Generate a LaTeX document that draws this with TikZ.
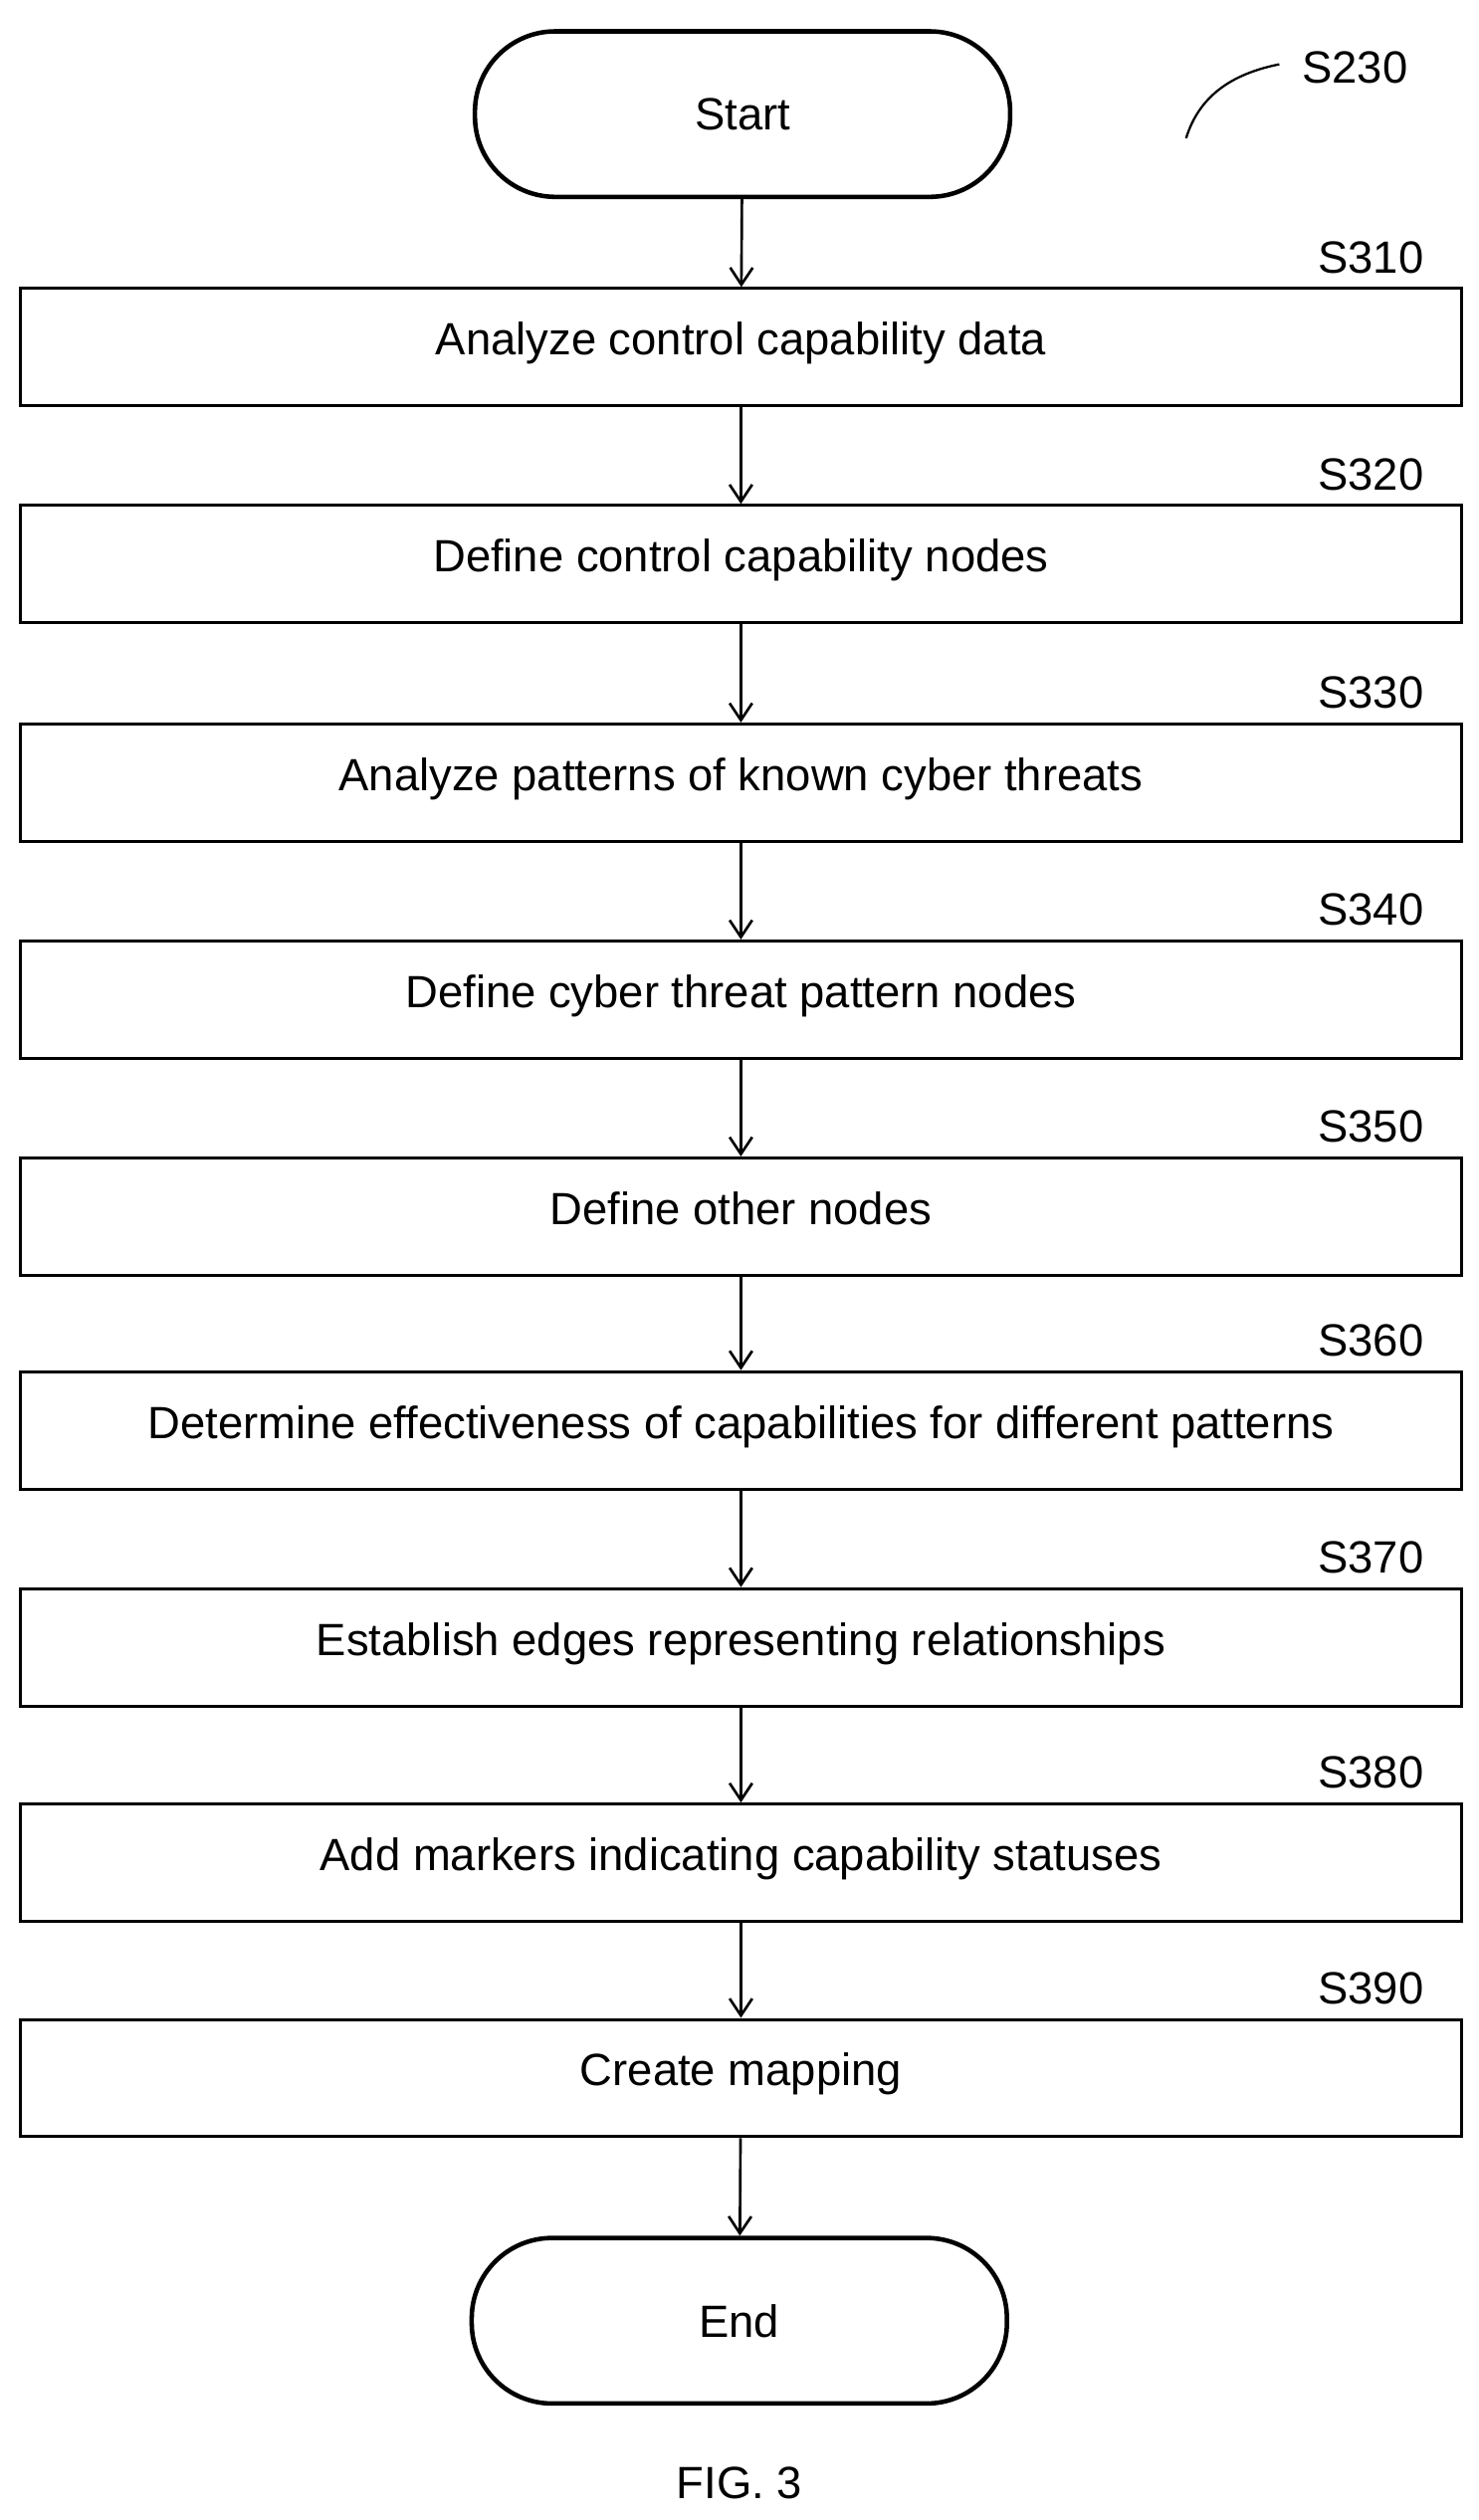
\documentclass[tikz,border=0pt]{standalone}
\usepackage{fontspec}
\setmainfont{Liberation Sans}
\usetikzlibrary{arrows.meta}

\tikzset{
	stepbox/.style={draw, line width=1.6pt, minimum width=897*0.03cm, minimum height=73*0.03cm, inner sep=0pt},
	term/.style={draw, line width=2.4pt, rounded corners=50*0.03cm, minimum width=333*0.03cm, minimum height=103*0.03cm},
	tag/.style={anchor=east},
	flow/.style={line width=1.4pt, -{Straight Barb[length=9pt, width=12pt]}}
}

\begin{document}
\begin{tikzpicture}[x=0.03cm, y=-0.03cm, font=\fontsize{24}{28}\selectfont]
	\useasboundingbox (0,0) rectangle (920,1568);
	%Terminals
		\node[term] (start) at (462,71) {Start};
		\node[term] (end) at (460,1444) {End};
	%Reference label
		\node[anchor=west] (s230) at (806,42) {S230};
		\draw[line width=1.2pt] (738,86) .. controls (746,60) and (766,46) .. (796,40);
	%Steps
		\foreach \name/\y/\txt in {
			310/216/Analyze control capability data,
			320/351/Define control capability nodes,
			330/487/Analyze patterns of known cyber threats,
			340/622/Define cyber threat pattern nodes,
			350/757/Define other nodes,
			360/890/Determine effectiveness of capabilities for different patterns,
			370/1025/Establish edges representing relationships,
			380/1159/Add markers indicating capability statuses,
			390/1293/Create mapping}
		{
			\node[stepbox] (s\name) at (461,\y) {\raisebox{9pt}{\txt}};
			\node[tag] (l\name) at (890,\y-56) {S\name};
		}
	%Connectors
		\draw[flow] (start) -- (s310);
		\foreach \a/\b in {310/320, 320/330, 330/340, 340/350, 350/360, 360/370, 370/380, 380/390}
			\draw[flow] (s\a) -- (s\b);
		\draw[flow] (s390) -- (end);
	%Figure caption
		\node (fig) at (460,1545) {FIG. 3};
\end{tikzpicture}
\end{document}
